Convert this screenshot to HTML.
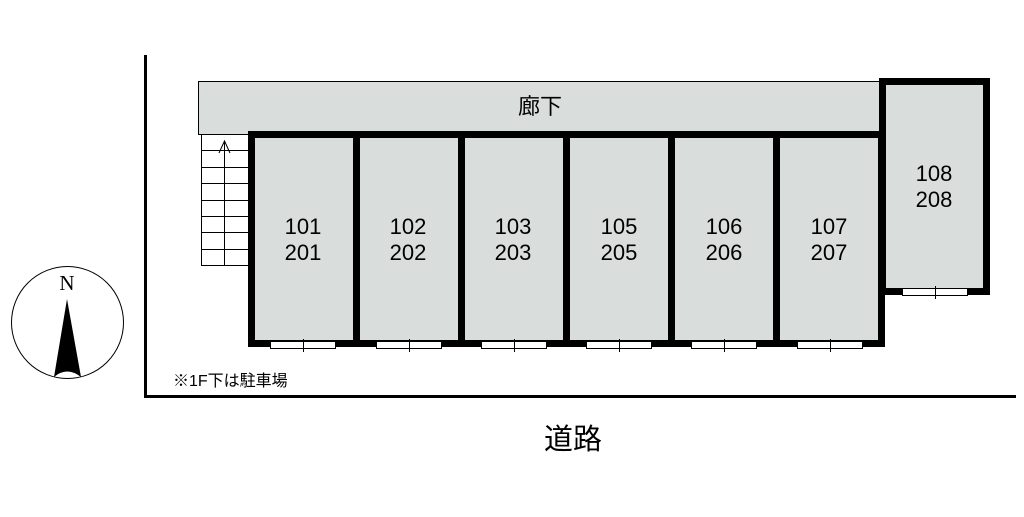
<!DOCTYPE html>
<html><head><meta charset="utf-8"><style>
body{margin:0;width:1024px;height:512px;background:#fff;overflow:hidden}
</style></head><body>
<svg width="1024" height="512" viewBox="0 0 1024 512" xmlns="http://www.w3.org/2000/svg" font-family="'Liberation Sans','Noto Sans CJK JP',sans-serif">
<rect x="144" y="55" width="3" height="343" fill="#000"/>
<rect x="144" y="395" width="872" height="3" fill="#000"/>
<rect x="198.5" y="81.5" width="682" height="53" fill="#d9dddb" stroke="#000" stroke-width="1"/>
<text x="540" y="114" font-size="22" text-anchor="middle">廊下</text>
<g stroke="#000" stroke-width="1" fill="none">
<rect x="201.5" y="134.5" width="47" height="131"/>
<line x1="224.5" y1="141" x2="224.5" y2="265"/>
<line x1="202" y1="150.5" x2="248" y2="150.5"/>
<line x1="202" y1="167.5" x2="248" y2="167.5"/>
<line x1="202" y1="183.5" x2="248" y2="183.5"/>
<line x1="202" y1="200.5" x2="248" y2="200.5"/>
<line x1="202" y1="216.5" x2="248" y2="216.5"/>
<line x1="202" y1="232.5" x2="248" y2="232.5"/>
<line x1="202" y1="249.5" x2="248" y2="249.5"/>
<polyline points="219,153 224.5,141 230,153"/>
</g>
<rect x="248" y="131" width="637" height="216" fill="#000"/>
<g fill="#d9dddb">
<rect x="255" y="138" width="98" height="202"/>
<rect x="360" y="138" width="98" height="202"/>
<rect x="465" y="138" width="98" height="202"/>
<rect x="570" y="138" width="98" height="202"/>
<rect x="675" y="138" width="98" height="202"/>
<rect x="780" y="138" width="98" height="202"/>
</g>
<rect x="879" y="78" width="111" height="217" fill="#000"/>
<rect x="886" y="85" width="97" height="203" fill="#d9dddb"/>
<g fill="#fff" stroke="#000" stroke-width="1">
<rect x="270.5" y="341.5" width="65" height="7"/>
<rect x="376.5" y="341.5" width="65" height="7"/>
<rect x="481.5" y="341.5" width="65" height="7"/>
<rect x="586.5" y="341.5" width="65" height="7"/>
<rect x="691.5" y="341.5" width="65" height="7"/>
<rect x="797.5" y="341.5" width="65" height="7"/>
<rect x="902.5" y="288.5" width="65" height="7"/>
<line x1="303.5" y1="339" x2="303.5" y2="352"/>
<line x1="409.5" y1="339" x2="409.5" y2="352"/>
<line x1="514.5" y1="339" x2="514.5" y2="352"/>
<line x1="619.5" y1="339" x2="619.5" y2="352"/>
<line x1="724.5" y1="339" x2="724.5" y2="352"/>
<line x1="830.5" y1="339" x2="830.5" y2="352"/>
<line x1="935.5" y1="286" x2="935.5" y2="299"/>
</g>
<g font-size="22" text-anchor="middle" fill="#000">
<text x="303" y="234">101</text><text x="303" y="260">201</text>
<text x="408" y="234">102</text><text x="408" y="260">202</text>
<text x="513" y="234">103</text><text x="513" y="260">203</text>
<text x="619" y="234">105</text><text x="619" y="260">205</text>
<text x="724" y="234">106</text><text x="724" y="260">206</text>
<text x="829" y="234">107</text><text x="829" y="260">207</text>
<text x="934" y="181">108</text><text x="934" y="207">208</text>
</g>
<text x="173" y="386" font-size="16">※1F下は駐車場</text>
<text x="573" y="449" font-size="29" text-anchor="middle">道路</text>
<circle cx="67.5" cy="322.5" r="56" fill="none" stroke="#000" stroke-width="1"/>
<text x="67" y="290" font-size="21" text-anchor="middle" font-family="'Liberation Serif',serif">N</text>
<path d="M67,299 L81,377 Q67,366 54,377 Z" fill="#000"/>
</svg>
</body></html>
